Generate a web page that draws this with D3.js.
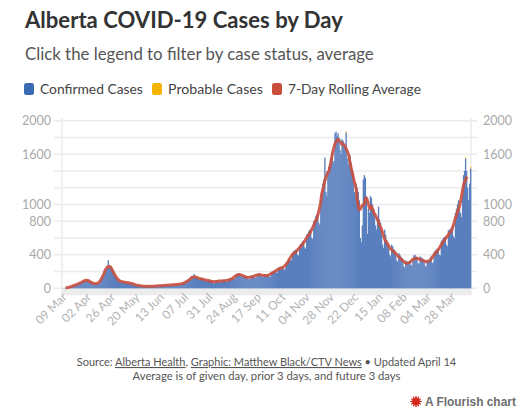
<!DOCTYPE html>
<html><head><meta charset="utf-8">
<script src="https://cdn.jsdelivr.net/npm/d3@7"></script>
<style>
body{margin:0;background:#fff;}
svg{display:block;font-family:Lato,"Open Sans",sans-serif;}
</style>
</head><body>
<svg id="chart" width="525" height="419"></svg>
<script>
// ---------------- DATA ----------------
const startDate = "2020-03-06";
const confirmed2020Mar = [1,2,3,5,4,8,10,14,18,22,30,35,32,40,48,52,55,62,68,72,80,85,78,82,95,88];
const confirmed2020Apr = [80,75,70,62,55,60,58,50,52,55,60,75,95,120,150,180,210,235,250,335,260,270,250,225,200,170,150,130,110,95];
const confirmed2020May = [88,80,72,85,78,75,70,72,62,58,70,68,62,58,50,42,38,40,36,34,30,30,25,22,28,26,25,24,26,20,18];
const confirmed2020Jun = [24,26,28,27,30,22,20,30,32,34,35,33,28,26,36,38,40,42,40,35,32,45,44,46,45,48,40,38,52,55];
const confirmed2020Jul = [50,58,62,55,60,80,88,95,105,112,110,115,150,170,145,130,125,110,105,125,120,115,110,105,90,85,100,98,95,92,88];
const confirmed2020Aug = [72,65,55,95,92,90,88,75,70,100,98,95,92,90,80,75,115,112,110,108,120,115,110,165,170,175,180,170,150,140,160];
const confirmed2020Sep = [150,145,140,138,120,110,105,150,155,150,148,130,125,170,175,178,172,165,140,130,160,158,155,160,158,140,135,185,195,200];
const confirmed2020Oct = [205,210,190,185,245,250,255,250,260,230,220,240,310,320,340,360,330,340,420,440,450,460,455,400,390,500,530,540,560,570,490];
const confirmed2020Nov = [470,640,650,680,700,690,600,590,800,820,860,880,900,780,760,1050,1150,1250,1300,1560,1150,1100,1400,1450,1480,1550,1620,1500,1520,1850];
const confirmed2020Dec = [1870,1820,1850,1800,1650,1600,1780,1760,1720,1700,1860,1550,1480,1600,1580,1500,1420,1380,1150,1100,1250,1200,1150,1050,600,550,750,1300,1350,1320,1100];
const confirmed2021Jan = [650,950,900,1100,1080,1000,950,900,750,700,850,975,820,780,700,520,480,700,640,580,540,500,400,380,520,500,470,450,430,330,320];
const confirmed2021Feb = [420,400,380,360,340,260,250,330,320,310,300,330,280,270,360,390,400,380,370,300,290,380,370,360,350,340,270,260];
const confirmed2021Mar = [340,330,320,360,380,300,310,430,450,460,470,480,400,390,560,580,600,610,620,520,500,690,700,710,720,740,620,600,900,950,1000];
const confirmed2021Apr = [1050,950,900,850,1100,1350,1400,1550,1400,1200,1050,1250,1430];
const probable = [["2020-03-28",8],["2020-03-29",35],["2020-03-30",12],["2020-03-31",10],["2020-04-01",8],["2020-04-03",5],
  ["2020-04-21",6],["2020-04-24",5],["2020-12-11",10],["2021-04-08",12],["2021-04-13",15]];
const xTickDates = ["2020-03-09","2020-04-02","2020-04-26","2020-05-20","2020-06-13","2020-07-07","2020-07-31","2020-08-24",
  "2020-09-17","2020-10-11","2020-11-04","2020-11-28","2020-12-22","2021-01-15","2021-02-08","2021-03-04","2021-03-28"];
const yTickValues = [0,400,800,1000,1600,2000];
const yGridValues = [0,200,400,600,800,1000,1200,1400,1600,1800,2000];
const seriesNames = ["Confirmed Cases","Probable Cases","7-Day Rolling Average"];
const seriesColors = ["#3b6cb3","#f4b400","#c94f3d"];

// ---------------- BUILD ----------------
const parse = d3.timeParse("%Y-%m-%d");
const start = parse(startDate);
const confirmed = [].concat(confirmed2020Mar,confirmed2020Apr,confirmed2020May,confirmed2020Jun,confirmed2020Jul,
  confirmed2020Aug,confirmed2020Sep,confirmed2020Oct,confirmed2020Nov,confirmed2020Dec,confirmed2021Jan,confirmed2021Feb,
  confirmed2021Mar,confirmed2021Apr);
const probMap = new Map(probable.map(([d,v]) => [d, v]));
const fmtKey = d3.timeFormat("%Y-%m-%d");
const days = confirmed.map((c,i) => {
  const date = d3.timeDay.offset(start, i);
  const p = probMap.get(fmtKey(date)) || 0;
  return {date, confirmed:c, probable:p, total:c+p};
});
const n = days.length;
days.forEach((d,i) => {
  if (i >= 3 && i <= n-4) d.avg = d3.mean(days.slice(i-3, i+4), e => e.total);
});

const svg = d3.select("#chart");
const L = 62, R = 471, T = 120.7, B = 288.3;
const x = d3.scaleTime().domain([start, d3.timeDay.offset(start, n)]).range([L, R]);
const y = d3.scaleLinear().domain([0, 2000]).range([B, T]);
const step = x(d3.timeDay.offset(start,1)) - x(start);

function fit(sel, w){
  const len = sel.node().getComputedTextLength();
  const fs = parseFloat(sel.attr("font-size"));
  sel.attr("font-size", fs * w / len);
}

// Title & subtitle
fit(svg.append("text").attr("x",25).attr("y",28.3).attr("font-size",21).attr("font-weight",700)
  .attr("fill","#333").text("Alberta COVID-19 Cases by Day"), 318);
fit(svg.append("text").attr("x",25).attr("y",59.5).attr("font-size",16.5)
  .attr("fill","#555").text("Click the legend to filter by case status, average"), 349);

// Legend
const legendWidths = [103, 95, 133];
let lx = 24;
seriesNames.forEach((name,i) => {
  svg.append("rect").attr("x",lx).attr("y",83).attr("width",10).attr("height",12).attr("rx",2.5)
    .attr("fill",seriesColors[i]);
  const t = svg.append("text").attr("x",lx+16).attr("y",94).attr("font-size",14).attr("fill","#444").text(name);
  fit(t, legendWidths[i]);
  lx += 16 + legendWidths[i] + 9;
});

// Grid
svg.append("g").selectAll("line").data(yGridValues).join("line")
  .attr("x1",54).attr("x2",477).attr("y1",d=>y(d)).attr("y2",d=>y(d))
  .attr("stroke","#ebebeb").attr("stroke-width",1.6);
svg.append("rect").attr("x",L).attr("y",B).attr("width",R-L).attr("height",7).attr("fill","#ececec");
[L, R].forEach(xx => svg.append("line").attr("x1",xx).attr("x2",xx).attr("y1",T-3).attr("y2",B+7)
  .attr("stroke","#ececec").attr("stroke-width",1.6));

// Y labels
const yl = svg.append("g").attr("font-size",12.5).attr("fill","#a9a9a9");
yl.selectAll("text.l").data(yTickValues).join("text").attr("class","l")
  .attr("x",51).attr("y",d=>y(d)).attr("dy","0.36em").attr("text-anchor","end").text(d=>d);
yl.selectAll("text.r").data(yTickValues).join("text").attr("class","r")
  .attr("x",483).attr("y",d=>y(d)).attr("dy","0.36em").attr("text-anchor","start").text(d=>d);

// Bars
const bars = svg.append("g");
bars.selectAll("rect.c").data(days).join("rect").attr("class","c")
  .attr("x",d=>x(d.date)).attr("width",step+0.35)
  .attr("y",d=>y(d.confirmed)).attr("height",d=>B-y(d.confirmed)).attr("fill","#5a7fbe");
bars.selectAll("rect.p").data(days.filter(d=>d.probable>0)).join("rect").attr("class","p")
  .attr("x",d=>x(d.date)).attr("width",step+0.35)
  .attr("y",d=>y(d.total)).attr("height",d=>y(d.confirmed)-y(d.total)).attr("fill",seriesColors[1]);

// Rolling average line
const line = d3.line().defined(d=>d.avg!==undefined)
  .x(d=>x(d.date)+step/2).y(d=>y(d.avg)).curve(d3.curveMonotoneX);
svg.append("path").datum(days).attr("d",line).attr("fill","none")
  .attr("stroke","#c9503f").attr("stroke-width",3).attr("stroke-opacity",0.9).attr("stroke-linejoin","round");

// X labels
const fmtTick = d3.timeFormat("%d %b");
svg.append("g").attr("font-size",12).attr("fill","#b3b3b3").selectAll("text").data(xTickDates).join("text")
  .attr("text-anchor","end")
  .attr("transform",d=>`translate(${x(parse(d))+step/2+2},298) rotate(-45)`)
  .text(d=>fmtTick(parse(d)));

// Footer
const f1 = svg.append("text").attr("x",266.5).attr("y",366).attr("text-anchor","middle").attr("font-size",12).attr("fill","#555");
f1.append("tspan").text("Source: ");
f1.append("tspan").attr("text-decoration","underline").text("Alberta Health");
f1.append("tspan").text(", ");
f1.append("tspan").attr("text-decoration","underline").text("Graphic: Matthew Black/CTV News");
f1.append("tspan").text(" \u2022 Updated April 14");
fit(f1, 380);
fit(svg.append("text").attr("x",266.5).attr("y",380).attr("text-anchor","middle").attr("font-size",12).attr("fill","#555")
  .text("Average is of given day, prior 3 days, and future 3 days"), 268);

// Flourish credit
const burst = svg.append("g").attr("transform","translate(416,401.5)");
d3.range(12).forEach(k => {
  const a = k*Math.PI/6;
  burst.append("line").attr("x1",0).attr("y1",0).attr("x2",5.5*Math.cos(a)).attr("y2",5.5*Math.sin(a))
    .attr("stroke","#d4281c").attr("stroke-width",1.4);
});
burst.append("circle").attr("r",3.8).attr("fill","#d4281c");
fit(svg.append("text").attr("x",425).attr("y",406).attr("font-size",13).attr("font-weight",700)
  .attr("font-family","'Liberation Sans',Arial,sans-serif").attr("fill","#6d6d6d").text("A Flourish chart"), 91);
</script>
</body></html>
